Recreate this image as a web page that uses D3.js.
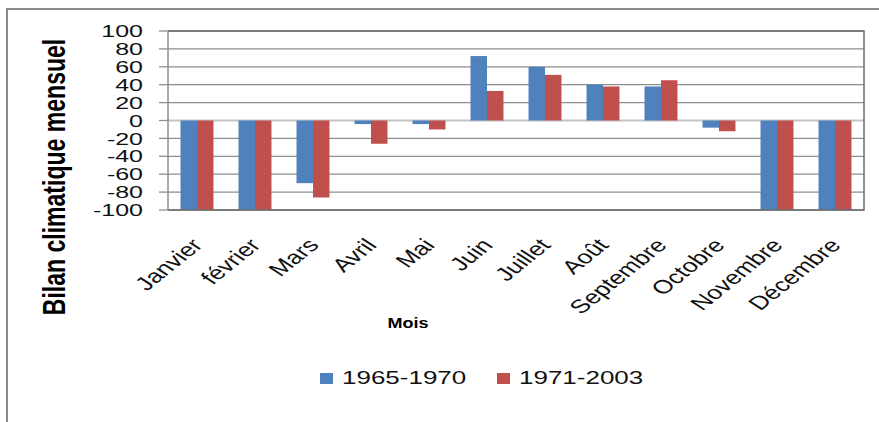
<!DOCTYPE html>
<html>
<head>
<meta charset="utf-8">
<script src="https://cdn.jsdelivr.net/npm/d3@7"></script>
<style>
  body { margin: 0; background: #fff; }
  svg { display: block; font-family: "Liberation Sans", Arial, sans-serif; }
</style>
</head>
<body>
<div id="container"></div>
<script>
/* DATA */
const months = ["Janvier", "février", "Mars", "Avril", "Mai", "Juin", "Juillet", "Août", "Septembre", "Octobre", "Novembre", "Décembre"]
const series = ["1965-1970", "1971-2003"]
const values1965 = [-100, -100, -70, -4, -4, 72, 60, 40, 38, -8, -100, -100]
const values1971 = [-100, -100, -86, -26, -10, 33, 51, 38, 45, -12, -100, -100]
const yTicks = [100, 80, 60, 40, 20, 0, -20, -40, -60, -80, -100]
const colors = ["#4F81BD", "#C0504D"]

/* CONSTANTS */
const width = 879, height = 422
const squish = 0.72   // the picture's text is flattened vertically
const plot = { left: 168, right: 864, top: 31, bottom: 210 }

const svg = d3.select("#container")
  .append("svg")
  .attr("width", width)
  .attr("height", height)

// outer chart frame (only top and left edges visible)
svg.append("path")
  .attr("d", `M7,${height} L7,9 L${width},9`)
  .attr("fill", "none")
  .attr("stroke", "#8a8a8a")
  .attr("stroke-width", 2)

const x = d3.scaleBand()
  .domain(months)
  .range([plot.left, plot.right])

const x1 = d3.scaleBand()
  .domain(series)
  .range([0, x.bandwidth()])
  .paddingInner(0)
  .paddingOuter(0.76)

const y = d3.scaleLinear()
  .domain([-100, 100])
  .range([plot.bottom, plot.top])

// gridlines
svg.append("g")
  .selectAll("line")
  .data(yTicks)
  .join("line")
  .attr("x1", plot.left)
  .attr("x2", plot.right)
  .attr("y1", d => y(d))
  .attr("y2", d => y(d))
  .attr("stroke", d => d === 0 ? "#c4c4c4" : "#8e8e8e")
  .attr("stroke-width", d => d === 0 ? 2 : 1.3)

// bars
const rows = months.map((m, i) => ({ month: m, vals: [values1965[i], values1971[i]] }))

svg.append("g")
  .selectAll("g")
  .data(rows)
  .join("g")
  .attr("transform", d => `translate(${x(d.month)},0)`)
  .selectAll("rect")
  .data(d => d.vals.map((v, j) => ({ key: series[j], v: v, j: j })))
  .join("rect")
  .attr("x", d => x1(d.key))
  .attr("width", x1.bandwidth())
  .attr("y", d => y(Math.max(0, d.v)))
  .attr("height", d => Math.abs(y(d.v) - y(0)))
  .attr("fill", d => colors[d.j])

// plot border: top, right, bottom
svg.append("path")
  .attr("d", `M${plot.left},${plot.top} L${plot.right},${plot.top} L${plot.right},${plot.bottom} L${plot.left},${plot.bottom}`)
  .attr("fill", "none")
  .attr("stroke", "#6e6e6e")
  .attr("stroke-width", 1.5)

// y axis line + ticks
svg.append("line")
  .attr("x1", plot.left).attr("x2", plot.left)
  .attr("y1", plot.top).attr("y2", plot.bottom)
  .attr("stroke", "#8e8e8e")
  .attr("stroke-width", 1.5)

svg.append("g")
  .selectAll("line")
  .data(yTicks)
  .join("line")
  .attr("x1", plot.left - 9)
  .attr("x2", plot.left)
  .attr("y1", d => y(d))
  .attr("y2", d => y(d))
  .attr("stroke", "#8e8e8e")
  .attr("stroke-width", 1.3)

// y tick labels (packed tightly, as in the picture)
svg.append("g")
  .selectAll("text")
  .data(yTicks)
  .join("text")
  .attr("transform", d => `translate(143,${y(d)}) scale(1,0.68)`)
  .attr("dy", "0.36em")
  .attr("text-anchor", "end")
  .attr("font-size", 25)
  .attr("fill", "#111")
  .text(d => d)

// x labels
svg.append("g")
  .selectAll("text")
  .data(months)
  .join("text")
  .attr("transform", d => `translate(${x(d) + x.bandwidth() / 2 + 7},${plot.bottom + 36}) scale(1,${squish}) rotate(-48)`)
  .attr("text-anchor", "end")
  .attr("font-size", 26.5)
  .attr("fill", "#111")
  .text(d => d)

// axis titles
svg.append("text")
  .attr("transform", `translate(65,177) scale(1,${squish}) rotate(-90)`)
  .attr("text-anchor", "middle")
  .attr("font-size", 32)
  .attr("font-weight", "bold")
  .attr("fill", "#000")
  .text("Bilan climatique mensuel")

svg.append("text")
  .attr("transform", `translate(408,328) scale(1,0.8)`)
  .attr("text-anchor", "middle")
  .attr("font-size", 18)
  .attr("font-weight", "bold")
  .attr("fill", "#000")
  .text("Mois")

// legend
const legend = svg.append("g")
  .selectAll("g")
  .data(series)
  .join("g")
  .attr("transform", (d, i) => `translate(${320 + i * 177},373)`)

legend.append("rect")
  .attr("width", 13)
  .attr("height", 11)
  .attr("fill", (d, i) => colors[i])

legend.append("text")
  .attr("transform", `translate(22,11) scale(1,${squish})`)
  .attr("font-size", 26)
  .attr("fill", "#111")
  .text(d => d)
</script>
</body>
</html>
